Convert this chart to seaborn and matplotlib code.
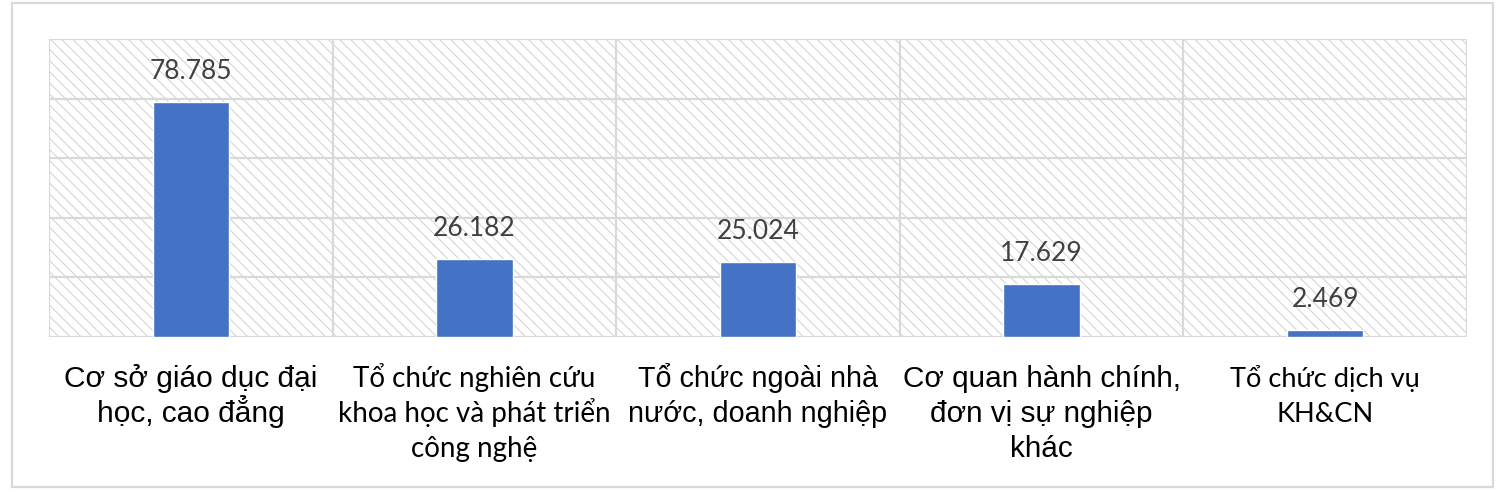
import matplotlib
matplotlib.use("Agg")
import matplotlib.pyplot as plt
import matplotlib.transforms as mtransforms
import seaborn as sns
import pandas as pd
import numpy as np
from matplotlib.patches import Rectangle

categories = [
    "Cơ sở giáo dục đại\nhọc, cao đẳng",
    "Tổ chức nghiên cứu\nkhoa học và phát triển\ncông nghệ",
    "Tổ chức ngoài nhà\nnước, doanh nghiệp",
    "Cơ quan hành chính,\nđơn vị sự nghiệp\nkhác",
    "Tổ chức dịch vụ\nKH&CN",
]
values = [78.785, 26.182, 25.024, 17.629, 2.469]
value_labels = ["78.785", "26.182", "25.024", "17.629", "2.469"]
y_ticks = [0, 20, 40, 60, 80, 100]

# styling per category label (mixed fonts as in the original)
label_fonts = ["Liberation Sans", "Lato", "Liberation Sans", "Liberation Sans", "Lato"]
label_sizes = [21.5, 20, 20.7, 21.4, 19.6]

sns.set_style("white")
plt.rcParams["font.family"] = ["Liberation Sans", "DejaVu Sans"]
plt.rcParams["hatch.linewidth"] = 0.7

W, H = 1500, 492
fig = plt.figure(figsize=(W / 100, H / 100), dpi=100)
fig.patch.set_facecolor("white")

# outer chart border
fig.patches.append(Rectangle((12 / W, 1 - 487 / H), (1493 - 12) / W, (487 - 3) / H,
                             transform=fig.transFigure, facecolor="none",
                             edgecolor="#d9d9d9", linewidth=1.6, zorder=5))

ax = fig.add_axes([49 / W, 1 - 337 / H, (1467 - 49) / W, (337 - 39) / H])
ax.patch.set_alpha(0)

df = pd.DataFrame({"cat": categories, "val": values})
sns.barplot(data=df, x="cat", y="val", color="#4472C4", saturation=1, width=0.27,
            ax=ax, zorder=3)

# hatched plot-area background
ax.add_patch(Rectangle((0, 0), 1, 1, transform=ax.transAxes, facecolor="white",
                       edgecolor="#d0d0d0", linewidth=0, hatch="\\\\\\", zorder=0.1))

ax.set_ylim(y_ticks[0], y_ticks[-1])
ax.set_xlim(-0.5, len(categories) - 0.5)
ax.set_yticks(y_ticks)
ax.set_yticklabels([])
ax.set_xticklabels([])
for y in y_ticks:
    ax.axhline(y, color="#d9d9d9", linewidth=1.6, zorder=1)
for b in np.arange(len(categories) + 1) - 0.5:
    ax.axvline(b, color="#d9d9d9", linewidth=1.6, zorder=1)
for s in ax.spines.values():
    s.set_visible(False)

ax.set_xlabel("")
ax.set_ylabel("")
ax.tick_params(axis="both", length=0)

# category labels, line by line with uniform line pitch (as in the original)
first_baseline, pitch = 50, 35  # pixels below the plot area
for i, (cat, fam, sz) in enumerate(zip(categories, label_fonts, label_sizes)):
    for j, line in enumerate(cat.split("\n")):
        tr = mtransforms.offset_copy(ax.get_xaxis_transform(), fig=fig, x=0,
                                     y=-(first_baseline + pitch * j), units="dots")
        ax.text(i, 0, line, transform=tr, ha="center", va="baseline",
                fontsize=sz, fontfamily=[fam, "DejaVu Sans"], color="black",
                clip_on=False)

ax.bar_label(ax.containers[0], labels=value_labels, padding=13, fontsize=19,
             color="#404040", fontfamily=["Lato", "DejaVu Sans"])

fig.savefig("out.png", dpi=100, facecolor="white")
